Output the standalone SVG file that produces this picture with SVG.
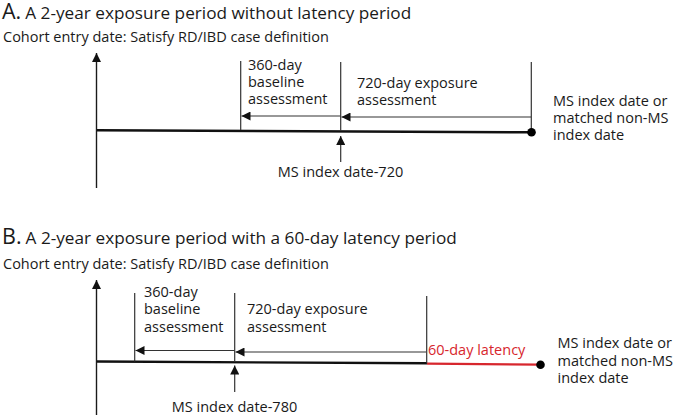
<svg xmlns="http://www.w3.org/2000/svg" width="675" height="418" viewBox="0 0 675 418">
<defs>
<style>
text{font-family:"Open Sans","Noto Sans","Liberation Sans",sans-serif;fill:#1a1a1a;}
.ttl{font-size:17.2px;}
.big{font-size:21.5px;}
.sub{font-size:14.5px;}
.lbl{font-size:14.5px;}
.red{fill:#d7262d;}
.tl{stroke:#111;stroke-width:2.4;fill:none;}
.tick{stroke:#333;stroke-width:1.2;fill:none;}
.arr{stroke:#333;stroke-width:1.2;fill:none;marker-end:url(#ah);}
.up{stroke:#333;stroke-width:1.2;fill:none;marker-end:url(#ah);}
.ax{stroke:#1a1a1a;stroke-width:1.4;fill:none;marker-end:url(#ah);}
.redl{stroke:#d7262d;stroke-width:2.2;fill:none;}
</style>
<marker id="ah" viewBox="0 0 10 10" refX="10" refY="5" markerUnits="userSpaceOnUse" markerWidth="10" markerHeight="9" orient="auto">
<path d="M0,0 L10,5 L0,10 z" fill="#111"/>
</marker>
</defs>

<g id="panelA-title">
<text x="2" y="18.5"><tspan class="big">A.</tspan><tspan class="ttl" dx="4">A 2-year exposure period without latency period</tspan></text>
<text class="sub" x="3" y="41.5">Cohort entry date: Satisfy RD/IBD case definition</text>
</g>

<g id="panelA-connectors">
<line class="ax" x1="96.5" y1="188" x2="96.5" y2="53"/>
<line class="tl" x1="97" y1="130.3" x2="531" y2="132.3"/>
<line class="tick" x1="240.7" y1="61" x2="240.7" y2="130"/>
<line class="tick" x1="340.7" y1="62" x2="340.7" y2="131"/>
<line class="tick" x1="531.3" y1="62" x2="531.3" y2="132"/>
<line class="arr" x1="531" y1="117" x2="341.5" y2="117"/>
<line class="arr" x1="340.5" y1="116" x2="241.5" y2="116"/>
<line class="up" x1="340.7" y1="162" x2="340.7" y2="136"/>
<circle cx="531.5" cy="132.3" r="4.3" fill="#000"/>
</g>

<g id="panelA-baseline">
<text class="lbl" x="248" y="70">360-day</text>
<text class="lbl" x="248" y="87">baseline</text>
<text class="lbl" x="248" y="104">assessment</text>
</g>
<g id="panelA-exposure">
<text class="lbl" x="357" y="88">720-day exposure</text>
<text class="lbl" x="357" y="105">assessment</text>
</g>
<g id="panelA-index">
<text class="lbl" x="553" y="106">MS index date or</text>
<text class="lbl" x="553" y="123">matched non-MS</text>
<text class="lbl" x="553" y="140">index date</text>
</g>
<g id="panelA-index720">
<text class="lbl" x="340.5" y="177" text-anchor="middle">MS index date-720</text>
</g>

<g id="panelB-title">
<text x="2" y="244"><tspan class="big">B.</tspan><tspan class="ttl" dx="4">A 2-year exposure period with a 60-day latency period</tspan></text>
<text class="sub" x="3" y="268.5">Cohort entry date: Satisfy RD/IBD case definition</text>
</g>

<g id="panelB-connectors">
<line class="ax" x1="96.5" y1="415" x2="96.5" y2="280"/>
<line class="tl" x1="97" y1="361.5" x2="427" y2="363.3"/>
<line class="redl" x1="427" y1="363.6" x2="540" y2="364.6"/>
<line class="tick" x1="134.7" y1="293" x2="134.7" y2="361.5"/>
<line class="tick" x1="234.7" y1="293" x2="234.7" y2="362"/>
<line class="tick" x1="426.7" y1="296" x2="426.7" y2="363.5"/>
<line class="arr" x1="426" y1="352" x2="235.5" y2="352"/>
<line class="arr" x1="234.5" y1="350.5" x2="135.5" y2="350.5"/>
<line class="up" x1="234.7" y1="392" x2="234.7" y2="365.5"/>
<circle cx="540.5" cy="364.8" r="4.3" fill="#000"/>
</g>

<g id="panelB-baseline">
<text class="lbl" x="144" y="297">360-day</text>
<text class="lbl" x="144" y="314">baseline</text>
<text class="lbl" x="144" y="331.5">assessment</text>
</g>
<g id="panelB-exposure">
<text class="lbl" x="247" y="314">720-day exposure</text>
<text class="lbl" x="247" y="331.5">assessment</text>
</g>
<g id="panelB-latency">
<text class="lbl red" x="428" y="355">60-day latency</text>
</g>
<g id="panelB-index">
<text class="lbl" x="557.5" y="348">MS index date or</text>
<text class="lbl" x="557.5" y="366">matched non-MS</text>
<text class="lbl" x="557.5" y="383">index date</text>
</g>
<g id="panelB-index780">
<text class="lbl" x="234.5" y="411.5" text-anchor="middle">MS index date-780</text>
</g>
</svg>
